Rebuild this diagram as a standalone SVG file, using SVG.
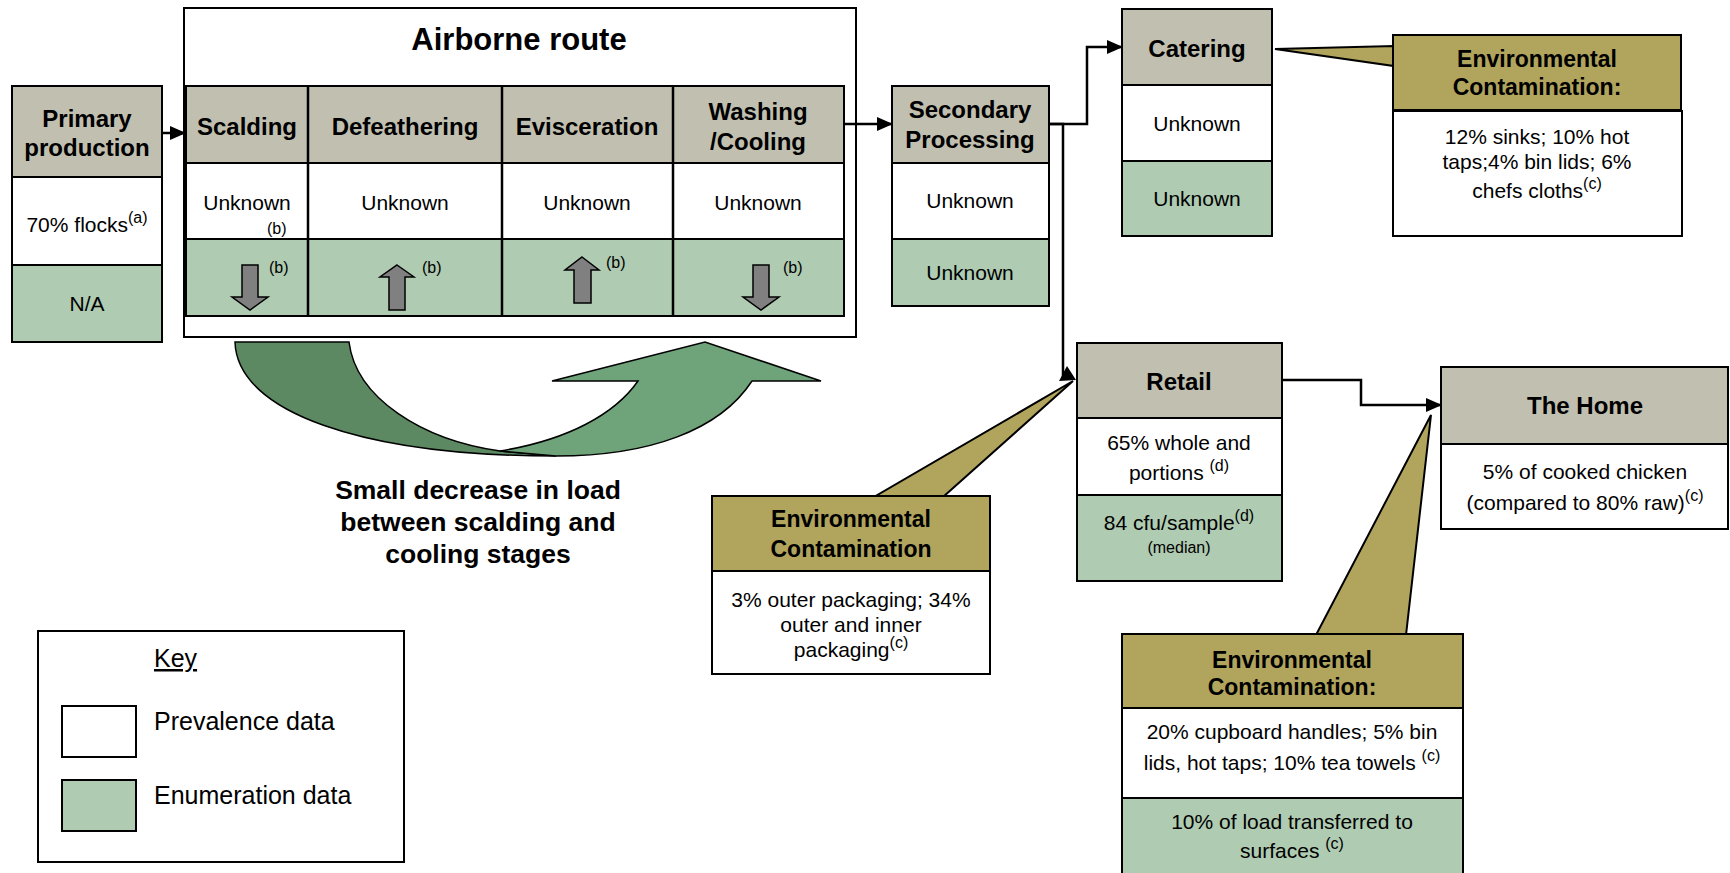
<svg xmlns="http://www.w3.org/2000/svg" width="1730" height="873" viewBox="0 0 1730 873">
<defs>
<style>
text{font-family:"Liberation Sans",Arial,sans-serif;fill:#000}
.h{font-weight:bold;font-size:24px;text-anchor:middle}
.t{font-size:21px;text-anchor:middle}
.s{font-size:16px}
.sm{font-size:16px;text-anchor:middle}
.hd{fill:#c1bfb0;stroke:#000;stroke-width:2}
.wh{fill:#fff;stroke:#000;stroke-width:2}
.gr{fill:#afcbb1;stroke:#000;stroke-width:2}
.ol{fill:#b1a45c;stroke:#000;stroke-width:2}
.ga{fill:#808080;stroke:#000;stroke-width:1.5}
.ln{fill:none;stroke:#000;stroke-width:2.5}
.big{font-weight:bold;font-size:26.5px;text-anchor:middle}
</style>
<marker id="ah" markerUnits="userSpaceOnUse" markerWidth="16" markerHeight="16" viewBox="0 0 16 16" refX="15" refY="8" orient="auto">
<path d="M0,1 L16,8 L0,15 Z" fill="#000"/>
</marker>
</defs>
<rect width="1730" height="873" fill="#fff"/>

<g id="primary-production">
<rect class="hd" x="12" y="86" width="150" height="91"/>
<rect class="wh" x="12" y="177" width="150" height="88"/>
<rect class="gr" x="12" y="265" width="150" height="77"/>
<text class="h" x="87" y="127">Primary</text>
<text class="h" x="87" y="156">production</text>
<text class="t" x="87" y="232">70% flocks<tspan class="s" dy="-9">(a)</tspan></text>
<text class="t" x="87" y="311">N/A</text>
</g>

<g id="airborne-route">
<rect x="184" y="8" width="672" height="329" fill="#fff" stroke="#000" stroke-width="2"/>
<text x="519" y="50" style="font-weight:bold;font-size:31px;text-anchor:middle">Airborne route</text>
<rect class="hd" x="186" y="86" width="658" height="77"/>
<rect class="wh" x="186" y="163" width="658" height="76"/>
<rect class="gr" x="186" y="239" width="658" height="77"/>
<path d="M308,86 V316 M502,86 V316 M673,86 V316" stroke="#000" stroke-width="2.5" fill="none"/>
<text class="h" x="247" y="135">Scalding</text>
<text class="h" x="405" y="135">Defeathering</text>
<text class="h" x="587" y="135">Evisceration</text>
<text class="h" x="758" y="120">Washing</text>
<text class="h" x="758" y="150">/Cooling</text>
<text class="t" x="247" y="210">Unknown</text>
<text class="s" x="267" y="234">(b)</text>
<text class="t" x="405" y="210">Unknown</text>
<text class="t" x="587" y="210">Unknown</text>
<text class="t" x="758" y="210">Unknown</text>
<polygon class="ga" points="242,265 258,265 258,297 268,297 250,310 232,297 242,297"/>
<polygon class="ga" points="397,265 414,277 405,277 405,310 389,310 389,277 380,277"/>
<polygon class="ga" points="582,257 599,270 591,270 591,303 574,303 574,270 565,270"/>
<polygon class="ga" points="753,265 769,265 769,297 779,297 761,310 743,297 753,297"/>
<text class="s" x="269" y="273">(b)</text>
<text class="s" x="422" y="273">(b)</text>
<text class="s" x="606" y="268">(b)</text>
<text class="s" x="783" y="273">(b)</text>
</g>

<g id="load-arrow">
<path d="M235,342 L349,342 C356,398 422,440 500,451 L556,456 C362,456 237,412 235,342 Z" fill="#5c8862" stroke="#000" stroke-width="1.5"/>
<path d="M500,451 C568,440 615,414 638,381 L552,381 L705,342 L821,381 L752,381 C720,430 650,456 556,456 Z" fill="#6fa37a" stroke="#000" stroke-width="1.5"/>
<text class="big" x="478" y="499">Small decrease in load</text>
<text class="big" x="478" y="531">between scalding and</text>
<text class="big" x="478" y="563">cooling stages</text>
</g>

<g id="secondary-processing">
<rect class="hd" x="892" y="86" width="157" height="77"/>
<rect class="wh" x="892" y="163" width="157" height="76"/>
<rect class="gr" x="892" y="239" width="157" height="67"/>
<text class="h" x="970" y="118">Secondary</text>
<text class="h" x="970" y="148">Processing</text>
<text class="t" x="970" y="208">Unknown</text>
<text class="t" x="970" y="280">Unknown</text>
</g>

<g id="catering">
<rect class="hd" x="1122" y="9" width="150" height="76"/>
<rect class="wh" x="1122" y="85" width="150" height="76"/>
<rect class="gr" x="1122" y="161" width="150" height="75"/>
<text class="h" x="1197" y="57">Catering</text>
<text class="t" x="1197" y="131">Unknown</text>
<text class="t" x="1197" y="206">Unknown</text>
</g>

<g id="catering-contamination">
<polygon class="ol" points="1275,49 1394,46 1394,66" stroke-width="1.5"/>
<rect class="ol" x="1393" y="35" width="288" height="75"/>
<rect class="wh" x="1393" y="111" width="289" height="125"/>
<text class="h" x="1537" y="67" style="font-size:23px">Environmental</text>
<text class="h" x="1537" y="95" style="font-size:23px">Contamination:</text>
<text class="t" x="1537" y="144">12% sinks; 10% hot</text>
<text class="t" x="1537" y="169">taps;4% bin lids; 6%</text>
<text class="t" x="1537" y="198">chefs cloths<tspan class="s" dy="-9">(c)</tspan></text>
</g>

<g id="retail">
<rect class="hd" x="1077" y="343" width="205" height="75"/>
<rect class="wh" x="1077" y="418" width="205" height="77"/>
<rect class="gr" x="1077" y="495" width="205" height="86"/>
<text class="h" x="1179" y="390">Retail</text>
<text class="t" x="1179" y="450">65% whole and</text>
<text class="t" x="1179" y="480">portions <tspan class="s" dy="-9">(d)</tspan></text>
<text class="t" x="1179" y="530">84 cfu/sample<tspan class="s" dy="-9">(d)</tspan></text>
<text class="sm" x="1179" y="553">(median)</text>
</g>

<g id="retail-contamination">
<polygon class="ol" points="874,497 943,497 1073,381" stroke-width="1.5"/>
<rect class="ol" x="712" y="496" width="278" height="75"/>
<rect class="wh" x="712" y="571" width="278" height="103"/>
<text class="h" x="851" y="527" style="font-size:23px">Environmental</text>
<text class="h" x="851" y="557" style="font-size:23px">Contamination</text>
<text class="t" x="851" y="607">3% outer packaging; 34%</text>
<text class="t" x="851" y="632">outer and inner</text>
<text class="t" x="851" y="657">packaging<tspan class="s" dy="-9">(c)</tspan></text>
</g>

<g id="the-home">
<rect class="hd" x="1441" y="367" width="287" height="77"/>
<rect class="wh" x="1441" y="444" width="287" height="85"/>
<text class="h" x="1585" y="414">The Home</text>
<text class="t" x="1585" y="479">5% of cooked chicken</text>
<text class="t" x="1585" y="510">(compared to 80% raw)<tspan class="s" dy="-9">(c)</tspan></text>
</g>

<g id="home-contamination">
<polygon class="ol" points="1316,635 1406,635 1431,415" stroke-width="1.5"/>
<rect class="ol" x="1122" y="634" width="341" height="74"/>
<rect class="wh" x="1122" y="708" width="341" height="90"/>
<rect class="gr" x="1122" y="798" width="341" height="80"/>
<text class="h" x="1292" y="668" style="font-size:23px">Environmental</text>
<text class="h" x="1292" y="695" style="font-size:23px">Contamination:</text>
<text class="t" x="1292" y="739">20% cupboard handles; 5% bin</text>
<text class="t" x="1292" y="770">lids, hot taps; 10% tea towels <tspan class="s" dy="-9">(c)</tspan></text>
<text class="t" x="1292" y="829">10% of load transferred to</text>
<text class="t" x="1292" y="858">surfaces <tspan class="s" dy="-9">(c)</tspan></text>
</g>

<g id="key">
<rect x="38" y="631" width="366" height="231" fill="#fff" stroke="#000" stroke-width="2"/>
<text x="154" y="667" style="font-size:25px;text-decoration:underline">Key</text>
<rect class="wh" x="62" y="706" width="74" height="51"/>
<text x="154" y="730" style="font-size:25px">Prevalence data</text>
<rect class="gr" x="62" y="780" width="74" height="51"/>
<text x="154" y="804" style="font-size:25px">Enumeration data</text>
</g>

<g id="connectors">
<path class="ln" d="M162,133 H185" marker-end="url(#ah)"/>
<path class="ln" d="M844,124 H892" marker-end="url(#ah)"/>
<path class="ln" d="M1049,124 H1087 V47 H1122" marker-end="url(#ah)"/>
<path class="ln" d="M1049,124 H1063 V378"/>
<polygon points="1059,381 1067,366 1076,380" fill="#000"/>
<path class="ln" d="M1282,380 H1361 V405 H1441" marker-end="url(#ah)"/>
</g>
</svg>
